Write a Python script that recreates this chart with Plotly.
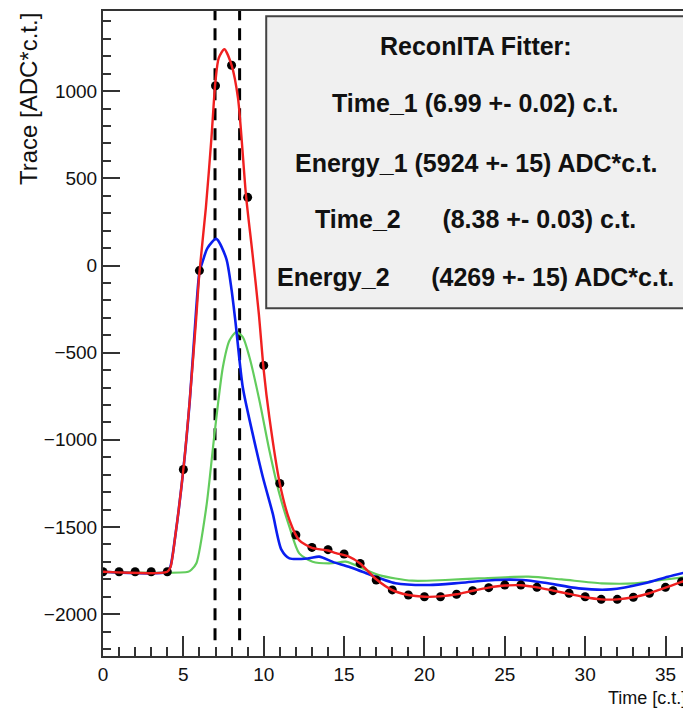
import plotly.graph_objects as go

# ---------------- data ----------------
point_t = list(range(0, 37))
point_y = [-1757, -1757, -1757, -1757, -1757, -1170, -29, 1031, 1149, 391,
           -573, -1250, -1546, -1617, -1630, -1655, -1709, -1804, -1861, -1890,
           -1900, -1900, -1886, -1865, -1848, -1833, -1833, -1846, -1865, -1880,
           -1900, -1915, -1915, -1903, -1880, -1846, -1814]
point_err = [22] * len(point_t)

red_t = [0, 4.0, 4.2, 4.5, 5.0, 5.4, 5.8, 6.0, 6.4, 6.75, 7.0, 7.2, 7.55, 8.0,
         8.4, 8.9, 9.3, 9.7, 10.0, 10.35, 11.0, 11.6, 12.2, 13.0, 14.0, 14.5,
         15.3, 16.0, 17.0, 18.0, 19.0, 20.0, 21.0, 22.0, 23.0, 24.0, 25.0, 26.0,
         27.0, 28.0, 29.0, 30.0, 31.0, 32.0, 33.0, 34.0, 35.0, 36.0, 36.4]
red_y = [-1757, -1757, -1730, -1550, -1170, -770, -300, -40, 330, 735, 1060,
         1190, 1241, 1150, 960, 400, 70, -280, -600, -870, -1250, -1460, -1575,
         -1620, -1635, -1650, -1670, -1709, -1800, -1862, -1890, -1900, -1898,
         -1886, -1866, -1848, -1836, -1834, -1846, -1865, -1884, -1903, -1915,
         -1915, -1903, -1880, -1848, -1815, -1800]

blue_t = [0, 4.0, 4.2, 4.5, 5.0, 5.4, 5.8, 6.0, 6.22, 6.5, 7.05, 7.67, 8.0,
          8.25, 8.7, 9.3, 9.94, 10.56, 11.1, 11.6, 12.8, 13.45, 14.3, 15.3,
          16.14, 18.2, 20.3, 22.3, 24.4, 26.1, 27.5, 29.6, 31.6, 33.7, 35.15,
          36.4]
blue_y = [-1757, -1757, -1725, -1550, -1170, -775, -250, -40, 29, 100, 153,
          40, -140, -330, -700, -960, -1212, -1422, -1630, -1680, -1680, -1670,
          -1700, -1728, -1757, -1823, -1833, -1820, -1804, -1804, -1820, -1852,
          -1858, -1823, -1785, -1757]

green_t = [0, 5.3, 5.5, 5.81, 6.43, 6.94, 7.46, 7.87, 8.29, 8.7, 9.11, 9.73,
           10.35, 10.97, 11.6, 12.21, 13.04, 14.28, 15.1, 17.17, 19.24, 21.3,
           23.37, 26.47, 28.54, 31.02, 33.09, 34.74, 36.4]
green_y = [-1757, -1757, -1745, -1708, -1384, -964, -582, -430, -382, -411,
           -525, -773, -1060, -1308, -1499, -1651, -1699, -1708, -1699, -1776,
           -1808, -1804, -1795, -1785, -1801, -1823, -1823, -1804, -1785]

dash_t = [6.97, 8.5]
dash_y = [-2150, 1460]

legend_lines = [
    "ReconITA Fitter:",
    "Time_1 (6.99 +- 0.02) c.t.",
    "Energy_1 (5924 +- 15) ADC*c.t.",
    "Time_2" + "\u00a0" * 6 + "(8.38 +- 0.03) c.t.",
    "Energy_2" + "\u00a0" * 6 + "(4269 +- 15) ADC*c.t.",
]

x_range = [0, 36.4]
y_range = [-2240, 1460]

# ---------------- figure ----------------
REG = "Liberation Sans, Arial, Helvetica, sans-serif"
AXC = "#333333"
TXT = "#111111"

fig = go.Figure()

for t in dash_t:
    fig.add_trace(go.Scatter(x=[t, t], y=dash_y, mode="lines",
                             line=dict(color="black", width=3, dash="12px,8px"),
                             showlegend=False, hoverinfo="skip"))

fig.add_trace(go.Scatter(x=green_t, y=green_y, mode="lines",
                         line=dict(color="#62cc5c", width=2.2, shape="spline", smoothing=0.7),
                         showlegend=False))
fig.add_trace(go.Scatter(x=blue_t, y=blue_y, mode="lines",
                         line=dict(color="#0a1ef0", width=2.6, shape="spline", smoothing=0.7),
                         showlegend=False))
fig.add_trace(go.Scatter(x=point_t, y=point_y, mode="markers",
                         marker=dict(color="black", size=9),
                         error_y=dict(type="data", array=point_err, color="black",
                                      thickness=2, width=0),
                         showlegend=False))
fig.add_trace(go.Scatter(x=red_t, y=red_y, mode="lines",
                         line=dict(color="#f02020", width=2.4, shape="spline", smoothing=0.7),
                         showlegend=False))

axis_common = dict(showgrid=False, zeroline=False, showline=True, linecolor=AXC,
                   linewidth=2, mirror=True, ticks="inside", tickcolor=AXC,
                   tickwidth=2, tickfont=dict(family=REG, size=19, color=TXT))

fig.update_xaxes(range=x_range, tick0=0, dtick=5, ticklen=20,
                 minor=dict(dtick=1, ticks="inside", ticklen=9, tickcolor=AXC, tickwidth=2),
                 **axis_common)
fig.update_yaxes(range=y_range, tick0=0, dtick=500, ticklen=17,
                 minor=dict(dtick=100, ticks="inside", ticklen=8, tickcolor=AXC, tickwidth=2),
                 **axis_common)

# fit-result box
fig.add_shape(type="rect", xref="paper", yref="paper",
              x0=0.279, x1=0.994, y0=0.539, y1=0.992,
              fillcolor="#f0f0f0", line=dict(color="#444444", width=2), layer="above")

ys = [0.946, 0.858, 0.765, 0.678, 0.587]
for txt, yy in zip(legend_lines, ys):
    fig.add_annotation(text="<b>" + txt + "</b>", xref="paper", yref="paper",
                       x=0.637, y=yy, xanchor="center", yanchor="middle",
                       showarrow=False,
                       font=dict(family=REG, size=25, color=TXT))

# axis titles (ROOT style, right-aligned at axis ends)
fig.add_annotation(text="Time [c.t.]", xref="paper", yref="paper", x=1.0, y=-0.065,
                   xanchor="right", yanchor="middle", showarrow=False,
                   font=dict(family=REG, size=18, color=TXT))
fig.add_annotation(text="Trace [ADC*c.t.]", xref="paper", yref="paper", x=-0.128, y=1.0,
                   xanchor="center", yanchor="top", textangle=-90, showarrow=False,
                   font=dict(family=REG, size=24, color=TXT))

# page body has an 8px default margin: size the figure so the plot lands where the reference has it
fig.update_layout(width=683, height=700,
                  margin=dict(l=95, r=1, t=2, b=52),
                  paper_bgcolor="white", plot_bgcolor="white")

fig.write_html("out.html")
